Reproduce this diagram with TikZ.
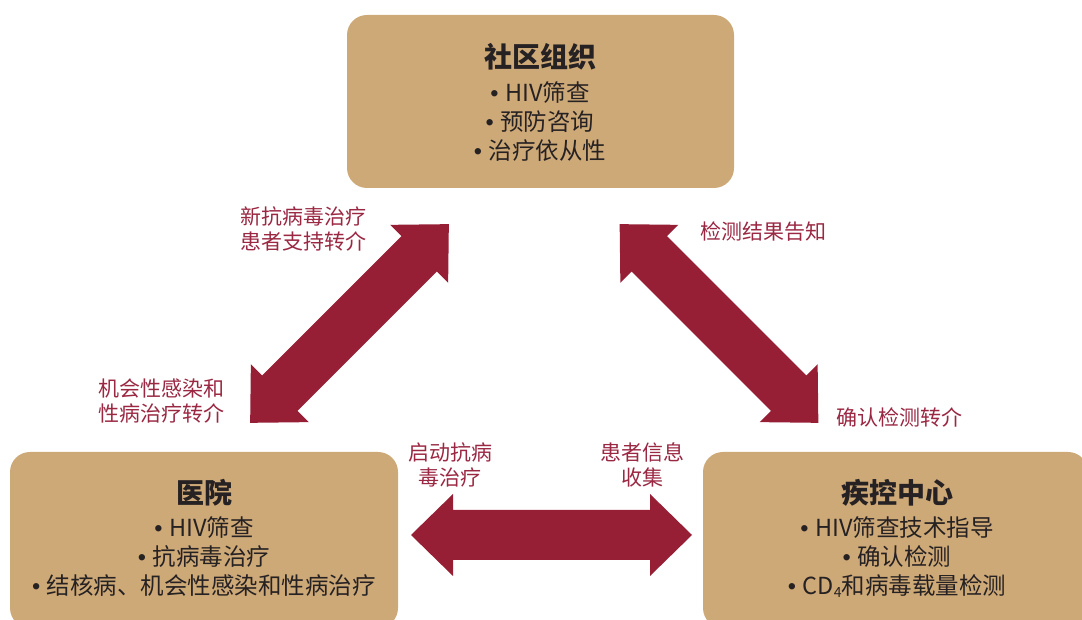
\documentclass[tikz,border=0pt]{standalone}
\usepackage{fontspec}
\setmainfont{Noto Sans CJK SC}
\newfontfamily\bulfont{Liberation Sans}
\newcommand\bul{{\bulfont •\ }}
\usetikzlibrary{calc}
\definecolor{boxtan}{HTML}{CEA978}
\definecolor{arrowred}{HTML}{961F35}
\definecolor{labelred}{HTML}{9A2843}
\definecolor{inktxt}{HTML}{262122}
\begin{document}
\begin{tikzpicture}[x=1pt,y=1pt,
  orgbox/.style={draw=none, fill=boxtan, rounded corners=20pt, inner sep=0pt},
  boxtitle/.style={font=\fontsize{28}{32}\selectfont\bfseries, text=inktxt},
  items/.style={font=\fontsize{23.5}{29}\selectfont, text=inktxt, align=center},
  lbl/.style={font=\fontsize{21}{25}\selectfont, text=labelred},
  blockarrow/.pic={\fill[arrowred] (-140.5,0) -- (-98.5,41) -- (-98.5,25) -- (98.5,25) -- (98.5,41) -- (140.5,0) -- (98.5,-41) -- (98.5,-25) -- (-98.5,-25) -- (-98.5,-41) -- cycle;}
]
\useasboundingbox (0,0) rectangle (1082,620);
\clip (0,0) rectangle (1082,620);
% boxes
\node[orgbox, minimum width=387pt, minimum height=173pt] (cbo) at (540.5,518.5) {};
\node[orgbox, minimum width=388pt, minimum height=176pt] (hosp) at (204,80) {};
\node[orgbox, minimum width=385pt, minimum height=176pt] (cdc) at (895.5,80) {};
% box texts
\node[boxtitle] (cbot) at (540,563) {社区组织};
\node[items] (cboi) at (540,498) {\bul HIV筛查\\\bul 预防咨询\\\bul 治疗依从性};
\node[boxtitle] (hospt) at (204,127) {医院};
\node[items] (hospi) at (204,63) {\bul HIV筛查\\\bul 抗病毒治疗\\\bul 结核病、机会性感染和性病治疗};
\node[boxtitle] (cdct) at (897,127) {疾控中心};
\node[items] (cdci) at (897,63) {\bul HIV筛查技术指导\\\bul 确认检测\\\bul CD\raisebox{-0.3ex}{\fontsize{14}{14}\selectfont 4}和病毒载量检测};
% arrows
\coordinate (la1) at (449,396); \coordinate (la2) at (250,197);
\coordinate (ra1) at (620,396); \coordinate (ra2) at (818,197);
\coordinate (ha1) at (411,85);  \coordinate (ha2) at (692,85);
\pic[rotate=45] at ($(la1)!0.5!(la2)$) {blockarrow};
\pic[rotate=-45] at ($(ra1)!0.5!(ra2)$) {blockarrow};
\pic at ($(ha1)!0.5!(ha2)$) {blockarrow};
% labels
\node[lbl, align=left] (l1) at (303.5,391) {新抗病毒治疗\\患者支持转介};
\node[lbl, align=left] (l2) at (161,218.5) {机会性感染和\\性病治疗转介};
\node[lbl] (l3) at (763,388) {检测结果告知};
\node[lbl] (l4) at (899,203) {确认检测转介};
\node[lbl, align=center] (l5) at (450,155.5) {启动抗病\\毒治疗};
\node[lbl, align=center] (l6) at (642,155.5) {患者信息\\收集};
\end{tikzpicture}
\end{document}
